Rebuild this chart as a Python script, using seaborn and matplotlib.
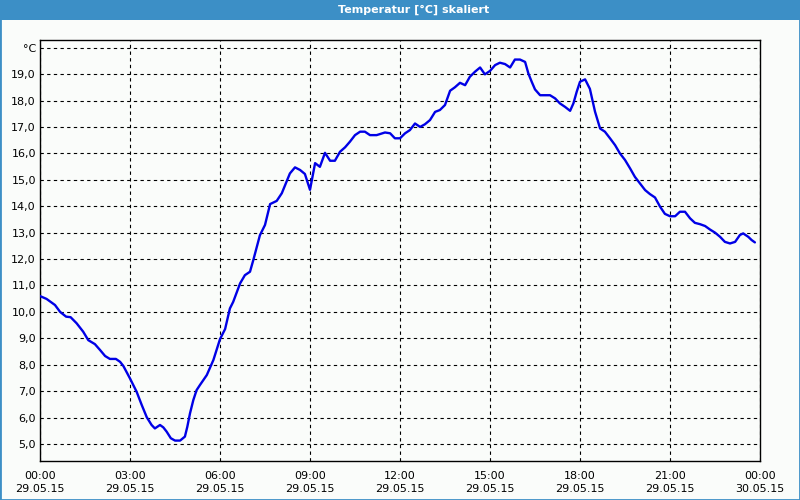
import matplotlib
matplotlib.use("Agg")
import matplotlib.pyplot as plt
import seaborn as sns
import pandas as pd
from matplotlib.ticker import FixedLocator, FuncFormatter, MultipleLocator

# ---- data (hours since 29.05.15 00:00, temperature in °C) ----
hours = [0.0, 0.22, 0.5, 0.67, 0.87, 1.02, 1.22, 1.44, 1.61, 1.83, 2.0, 2.17, 2.33, 2.53,
         2.67, 2.78, 3.0, 3.22, 3.39, 3.56, 3.72, 3.83, 4.0, 4.11, 4.22, 4.36, 4.5, 4.67,
         4.83, 4.91, 5.0, 5.11, 5.22, 5.33, 5.56, 5.78, 6.0, 6.17, 6.33, 6.44, 6.67, 6.83,
         7.0, 7.11, 7.33, 7.5, 7.67, 7.89, 8.06, 8.33, 8.5, 8.67, 8.83, 9.0, 9.17, 9.33,
         9.5, 9.67, 9.83, 10.0, 10.17, 10.33, 10.5, 10.67, 10.83, 11.0, 11.22, 11.5, 11.67,
         11.83, 12.0, 12.17, 12.33, 12.5, 12.67, 12.83, 13.0, 13.17, 13.33, 13.5, 13.67,
         13.83, 14.0, 14.17, 14.33, 14.5, 14.67, 14.83, 15.0, 15.17, 15.33, 15.5, 15.67,
         15.83, 16.0, 16.17, 16.28, 16.39, 16.5, 16.67, 17.0, 17.17, 17.33, 17.5, 17.67,
         17.78, 17.89, 18.0, 18.17, 18.33, 18.5, 18.67, 18.83, 19.0, 19.17, 19.33, 19.5,
         19.67, 19.83, 20.0, 20.17, 20.33, 20.5, 20.67, 20.83, 21.0, 21.17, 21.33, 21.5,
         21.67, 21.83, 22.0, 22.17, 22.33, 22.5, 22.67, 22.83, 23.0, 23.17, 23.33, 23.44,
         23.61, 23.72, 23.83]
temps = [10.6, 10.49, 10.26, 10.0, 9.82, 9.8, 9.57, 9.25, 8.93, 8.78, 8.56, 8.33, 8.22, 8.22,
         8.11, 7.95, 7.48, 6.98, 6.48, 6.01, 5.72, 5.59, 5.72, 5.63, 5.47, 5.22, 5.13, 5.13,
         5.28, 5.65, 6.16, 6.66, 7.04, 7.23, 7.61, 8.18, 8.97, 9.35, 10.13, 10.38, 11.08, 11.39,
         11.52, 11.96, 12.9, 13.29, 14.08, 14.2, 14.49, 15.24, 15.47, 15.37, 15.22, 14.62, 15.63, 15.49,
         16.02, 15.72, 15.72, 16.06, 16.23, 16.44, 16.69, 16.82, 16.82, 16.69, 16.69, 16.79, 16.76,
         16.57, 16.57, 16.76, 16.88, 17.13, 17.0, 17.1, 17.26, 17.57, 17.64, 17.83, 18.37,
         18.5, 18.67, 18.58, 18.9, 19.09, 19.25, 18.99, 19.12, 19.34, 19.43, 19.38, 19.25,
         19.55, 19.55, 19.46, 19.02, 18.71, 18.42, 18.2, 18.2, 18.08, 17.89, 17.76, 17.61,
         17.89, 18.33, 18.71, 18.8, 18.44, 17.58, 16.94, 16.82, 16.57, 16.31, 16.0, 15.75,
         15.43, 15.11, 14.86, 14.61, 14.46, 14.33, 13.98, 13.71, 13.62, 13.62, 13.79, 13.79,
         13.54, 13.37, 13.32, 13.25, 13.12, 13.0, 12.84, 12.65, 12.59, 12.65, 12.91, 12.97,
         12.84, 12.72, 12.63]

x_tick_hours = [0, 3, 6, 9, 12, 15, 18, 21, 24]
x_tick_labels = ["00:00\n29.05.15", "03:00\n29.05.15", "06:00\n29.05.15", "09:00\n29.05.15",
                 "12:00\n29.05.15", "15:00\n29.05.15", "18:00\n29.05.15", "21:00\n29.05.15",
                 "00:00\n30.05.15"]
y_ticks = [5, 6, 7, 8, 9, 10, 11, 12, 13, 14, 15, 16, 17, 18, 19, 20]
title = "Temperatur [°C] skaliert"
unit = "°C"

df = pd.DataFrame({"hour": hours, "temp": temps})

sns.set_style("white")
plt.rcParams["font.family"] = ["DejaVu Sans"]

bg = "#FAFCFA"
bar_blue = "#3C8FC6"

fig = plt.figure(figsize=(8, 5), dpi=100, facecolor=bg)
# outer frame
fig.patches.append(plt.Rectangle((0, 0), 1, 1, transform=fig.transFigure,
                                 facecolor="none", edgecolor=bar_blue, linewidth=2, zorder=0))
# title bar
fig.patches.append(plt.Rectangle((0, 1 - 20 / 500), 1, 20 / 500, transform=fig.transFigure,
                                 facecolor=bar_blue, edgecolor="none", zorder=1))
fig.text(414 / 800, 1 - 10 / 500, title, color="white", fontsize=8, fontweight="bold",
         ha="center", va="center", family="DejaVu Sans")

ax = fig.add_axes([40 / 800, 1 - 461 / 500, 720 / 800, 421 / 500])
ax.set_facecolor(bg)

sns.lineplot(data=df, x="hour", y="temp", ax=ax, color="#0000E6", linewidth=1.7, zorder=3)

ax.set_xlim(0, 24)
ax.set_ylim(4.357, 20.29)

ax.xaxis.set_major_locator(FixedLocator(x_tick_hours))
ax.set_xticklabels(x_tick_labels, fontsize=8, linespacing=1.45)
ax.xaxis.set_minor_locator(MultipleLocator(1))
ax.tick_params(axis="x", which="both", direction="out", length=4, width=1, color="black",
               pad=3, labelcolor="black")

ax.yaxis.set_major_locator(FixedLocator(y_ticks))
ax.yaxis.set_major_formatter(FuncFormatter(
    lambda v, p: unit if abs(v - 20) < 1e-6 else f"{v:.1f}".replace(".", ",")))
ax.tick_params(axis="y", which="both", length=0, pad=3, labelsize=8, labelcolor="black")

ax.grid(True, which="major", axis="both", color="black", linestyle=(0, (3, 3)), linewidth=0.8)
for s in ax.spines.values():
    s.set_visible(True)
    s.set_color("black")
    s.set_linewidth(1)

ax.set_xlabel("")
ax.set_ylabel("")

fig.savefig("out.png", dpi=100, facecolor=bg)
